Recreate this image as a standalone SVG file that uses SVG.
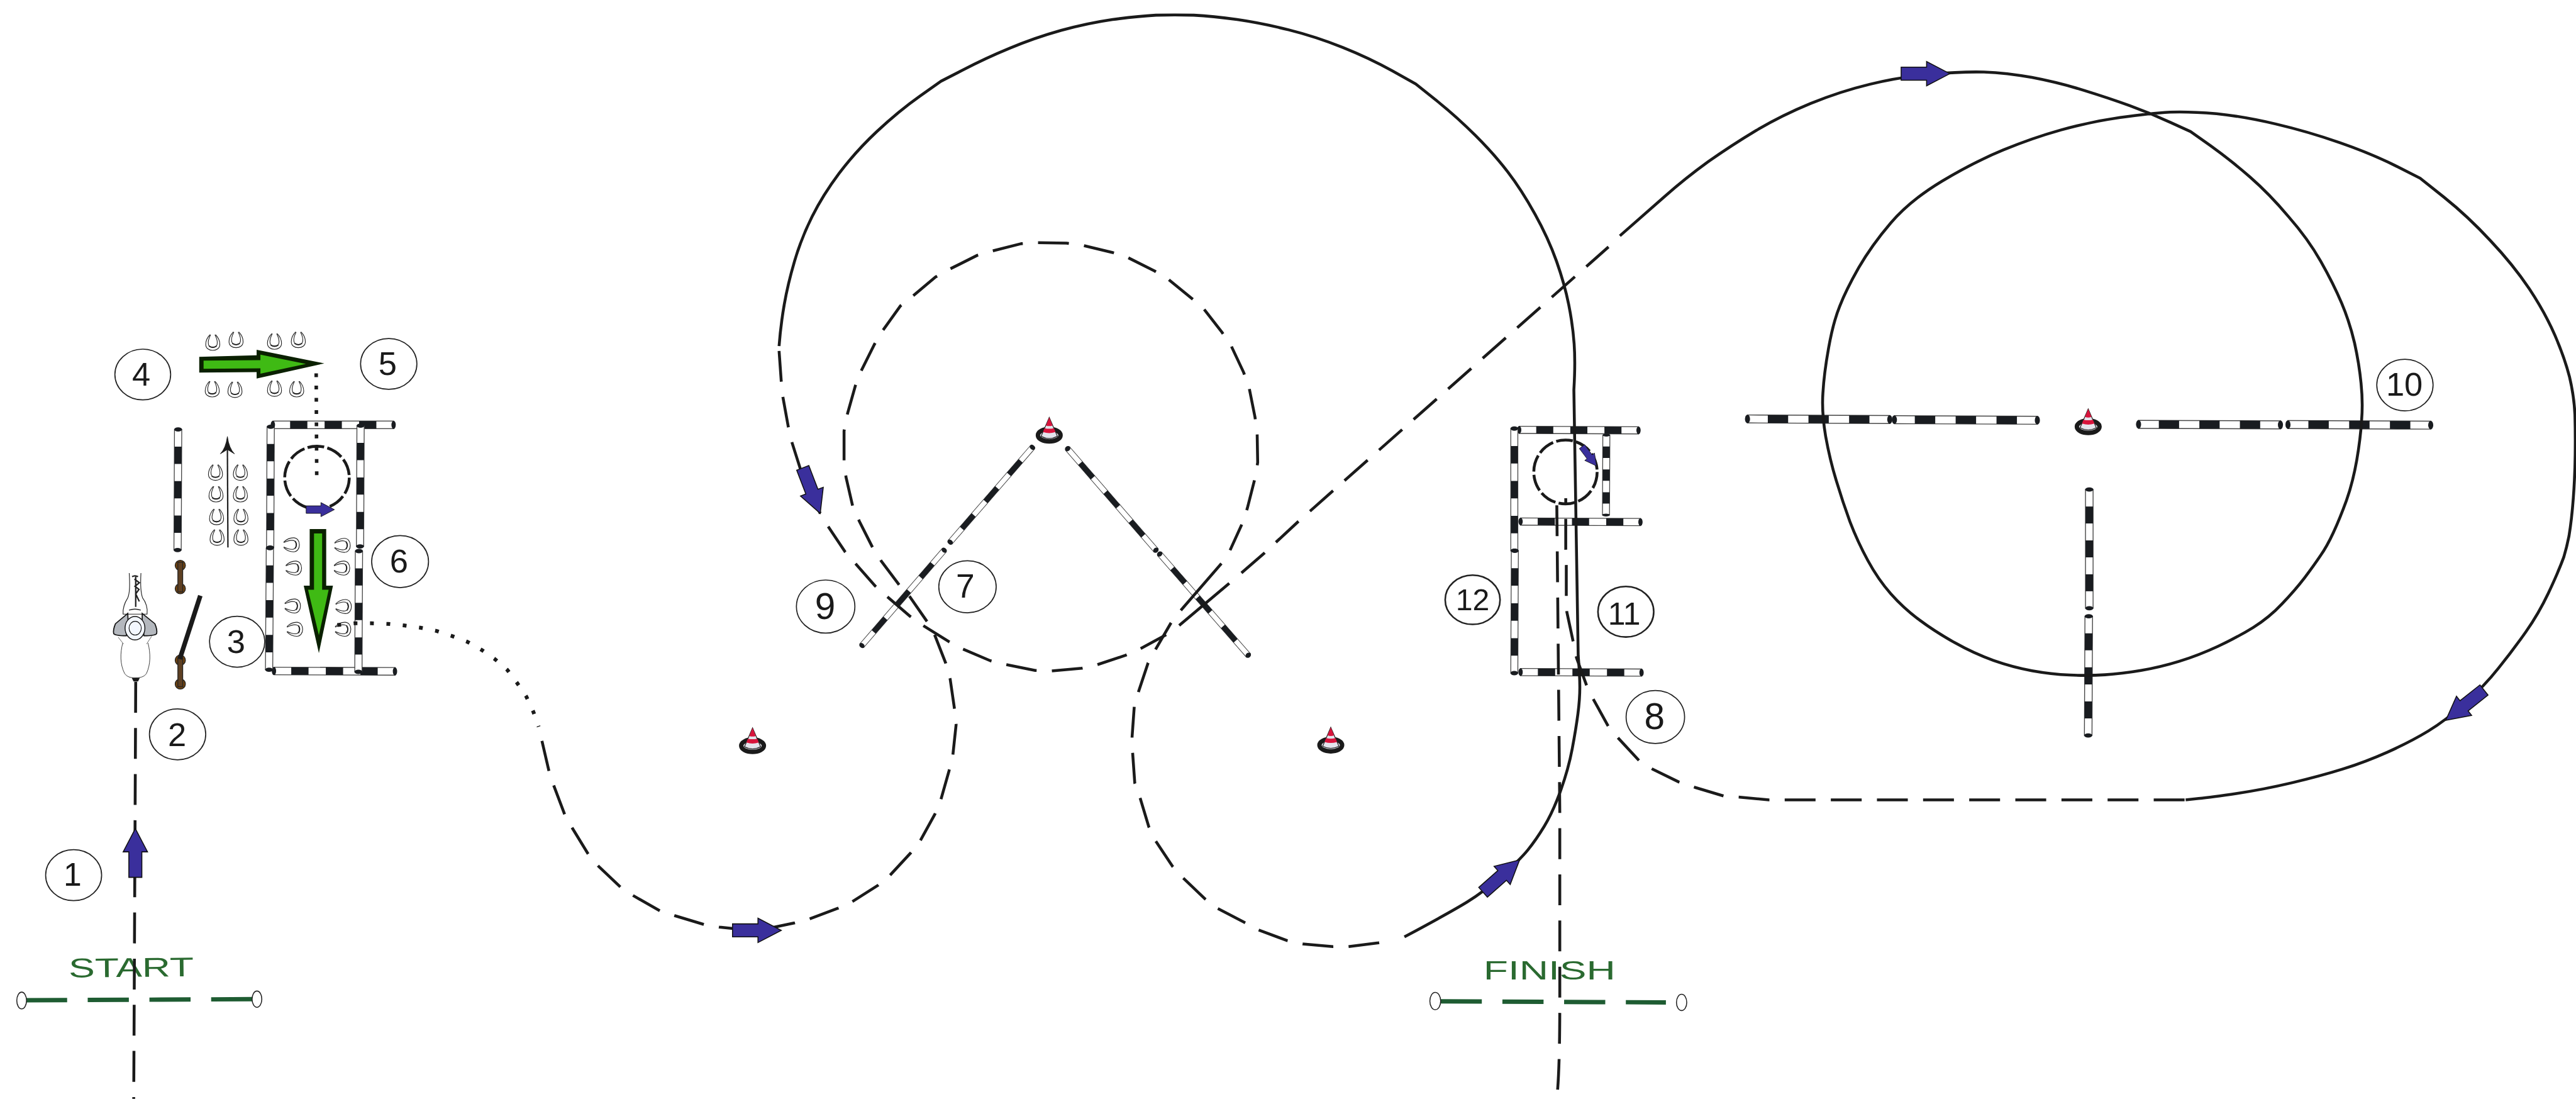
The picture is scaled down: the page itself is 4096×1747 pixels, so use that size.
<svg xmlns="http://www.w3.org/2000/svg" xmlns:xlink="http://www.w3.org/1999/xlink" width="4096" height="1747" viewBox="0 0 4096 1747">
<style>
.l{fill:none;stroke:#1a1a1a;stroke-width:5.3;stroke-linejoin:round}
.d{stroke-dasharray:57 28.2}
.c{stroke-dasharray:31 6}
.o{fill:#fff;stroke:#222;stroke-width:2}
.t{font-family:"Liberation Sans",Arial,sans-serif;fill:#1a1a1a;text-anchor:middle}
.g{font-family:"Liberation Sans",Arial,sans-serif;fill:#2a6a30;font-size:50px}
.gl{fill:none;stroke:#1e5c32;stroke-width:8;stroke-dasharray:76 38}
.e{fill:#fff;stroke:#222;stroke-width:1.8}
.dk{fill:#0a2000}
.gr{fill:#3fba14}
.b{fill:#5e4023;stroke:#222;stroke-width:1.5}
.bb{fill:#6f4310;stroke:#222;stroke-width:1.5}
</style>
<defs>
<g id="pole">
<rect x="0" y="-7" width="224" height="14" fill="#fff" stroke="#444" stroke-width="1.6"/>
<rect x="32" y="-7" width="32" height="14" fill="#191c20"/>
<rect x="96" y="-7" width="32" height="14" fill="#191c20"/>
<rect x="160" y="-7" width="32" height="14" fill="#191c20"/>
<ellipse cx="0" cy="0" rx="4" ry="7.5" fill="#191c20"/>
<ellipse cx="224" cy="0" rx="4" ry="7.5" fill="#191c20"/>
</g>
<polygon id="ba" points="0,0 -43,-22.5 -43,-12 -90,-12 -90,12 -43,12 -43,22.5" fill="#3a2f9c" stroke="#111" stroke-width="1.8"/>
<g id="shoe" fill="none" stroke="#222" stroke-width="1.3">
<path d="M-5,-14C-10,-9 -13,-2 -13,4C-13,11 -7,15 0,15C7,15 13,11 13,4C13,-2 10,-9 5,-14"/>
<path d="M-4,-14C-8,-6 -9,0 -8,4C-7,8 -3,9 0,9C3,9 7,8 8,4C9,0 8,-6 4,-14"/>
<path d="M-7,7Q0,12 7,7" stroke-width="2.2"/>
</g>
<g id="cone">
<ellipse rx="21" ry="11.5" fill="#e4e4ec" stroke="#1a1a1a" stroke-width="8"/>
<path d="M0,-33L15,2Q0,10 -15,2Z" fill="#e4e4ec" stroke="#222" stroke-width="1.4"/>
<path d="M0,-33L6,-18Q0,-16 -6,-18Z" fill="#d8143c"/>
<path d="M-8.5,-13Q0,-11 8.5,-13L11.5,-6Q0,-2 -11.5,-6Z" fill="#d8143c"/>
</g>
</defs>
<g transform="scale(.86087)">
<g id="jump-box-1">
<use href="#pole" transform="matrix(.9955 0 0 1 504 784.5)"/>
<use href="#pole" transform="matrix(.998 .003 0 1 506 1239)"/>
<use href="#pole" transform="matrix(-.0045 .9955 -.96 0 500 788)"/>
<use href="#pole" transform="matrix(-.0067 1.003 -.96 0 498.5 1012)"/>
<use href="#pole" transform="matrix(-.0045 .9955 -.96 0 666 786)"/>
<use href="#pole" transform="matrix(-.0045 .9955 -.96 0 663 1017.6)"/>
</g>
<g id="jump-2">
<use href="#pole" transform="matrix(-.0045 .994 -.96 0 329 793)"/>
<ellipse class="bb" cx="333" cy="1044" rx="9.5" ry="9.5"/><ellipse class="bb" cx="333" cy="1087" rx="9.5" ry="9.5"/>
<rect class="b" x="328.5" y="1038" width="9" height="55"/>
<ellipse class="bb" cx="333" cy="1219" rx="9.5" ry="9.5"/><ellipse class="bb" cx="333" cy="1263" rx="9.5" ry="9.5"/>
<rect class="b" x="328.5" y="1215" width="9" height="53"/>
<line x1="370" y1="1100" x2="332" y2="1217" stroke="#1a1a1a" stroke-width="8.5"/>
</g>
<g id="shoes">
<use href="#shoe" x="393" y="632"/><use href="#shoe" x="436" y="627"/><use href="#shoe" x="507" y="630"/><use href="#shoe" x="551" y="627"/>
<use href="#shoe" x="392" y="718"/><use href="#shoe" x="434" y="719"/><use href="#shoe" x="507" y="717"/><use href="#shoe" x="548" y="718"/>
<use href="#shoe" x="398" y="872"/><use href="#shoe" x="399" y="912"/><use href="#shoe" x="400" y="954"/><use href="#shoe" x="401" y="992"/>
<use href="#shoe" x="444" y="872"/><use href="#shoe" x="444" y="912"/><use href="#shoe" x="445" y="954"/><use href="#shoe" x="445" y="992"/>
<use href="#shoe" transform="translate(538 1006) rotate(-90)"/><use href="#shoe" transform="translate(542 1049) rotate(-90)"/><use href="#shoe" transform="translate(540 1119) rotate(-90)"/><use href="#shoe" transform="translate(544 1162) rotate(-90)"/>
<use href="#shoe" transform="translate(632 1007) rotate(-90)"/><use href="#shoe" transform="translate(631 1049) rotate(-90)"/><use href="#shoe" transform="translate(634 1120) rotate(-90)"/><use href="#shoe" transform="translate(633 1162) rotate(-90)"/>
</g>
<g id="green-arrows">
<polygon class="dk" points="368,659 474,656 474,646 599,671 474,699 474,687 368,688"/>
<polygon class="gr" points="376,666 481,665 481,655 565,672 481,690 481,680 376,681"/>
<polygon class="dk" points="572,977 602.5,977 602.5,1081.6 615,1081.6 589,1206 561,1081.6 572,1081.6"/>
<polygon class="gr" points="580,985 595,985 595,1089 607,1089 589,1173 569,1089 580,1089"/>
<line x1="421" y1="1011" x2="420" y2="825" stroke="#222" stroke-width="2.6"/>
<path d="M420,806Q423,828 433,838L420,830L407,838Q417,828 420,806Z" fill="#1a1a1a" stroke="#1a1a1a" stroke-width="1"/>
</g>
<g id="horse" transform="translate(180 950) scale(.3333)">
<path d="M176,325C180,380 182,430 168,462C150,490 140,520 142,552L275,552C280,520 268,485 250,462C238,430 238,380 241,325" fill="#fff" stroke="#222" stroke-width="4"/>
<path d="M192,345Q208,335 225,345M212,345L212,512M205,358L232,378L208,398L230,415L212,440L232,482" fill="none" stroke="#222" stroke-width="8"/>
<path d="M175,530Q208,518 240,530" fill="none" stroke="#222" stroke-width="5"/>
<path d="M140,712C125,770 125,830 150,880C165,903 190,905 208,905C230,905 258,903 272,880C295,830 295,770 280,712" fill="#fff" stroke="#222" stroke-width="3"/>
<path d="M115,680L145,718M300,675L272,718" stroke="#555" stroke-width="3" fill="none"/>
<path d="M190,905L235,905L225,925L200,925Z" fill="#1a1a1a"/>
<path d="M168,548L100,605Q85,640 90,660Q100,672 160,672L170,600Z" fill="#b4b8be" stroke="#111" stroke-width="6"/>
<path d="M248,548L318,605Q333,640 328,660Q318,672 258,672L248,600Z" fill="#b4b8be" stroke="#111" stroke-width="6"/>
<ellipse cx="208" cy="630" rx="55" ry="65" fill="#f3f7ff" stroke="#111" stroke-width="5"/>
<ellipse cx="209" cy="630" rx="34" ry="38" fill="#f3f7ff" stroke="#111" stroke-width="4"/>
</g>
<g id="jump-v">
<use href="#pole" transform="matrix(-.6786 .7813 -.539 -.468 1907 826)"/>
<use href="#pole" transform="matrix(-.6786 .7857 -.54 -.4666 1744 1016)"/>
<use href="#pole" transform="matrix(.7277 .837 -.539 .4685 1972 828.5)"/>
<use href="#pole" transform="matrix(.7304 .8348 -.537 .47 2142 1023)"/>
</g>
<g id="jump-box-2">
<use href="#pole" transform="matrix(.984 .004 0 .95 2806 793.7)"/>
<use href="#pole" transform="matrix(.9884 .0045 0 .95 2808.6 963)"/>
<use href="#pole" transform="matrix(.9973 .0045 0 .95 2808.6 1241)"/>
<use href="#pole" transform="matrix(0 1.007 -.93 0 2797 791.4)"/>
<use href="#pole" transform="matrix(-.0045 1.009 -.93 0 2798 1017)"/>
<use href="#pole" transform="matrix(-.003 .6585 -.93 0 2967 803.5)"/>
</g>
<g id="jump-cross">
<use href="#pole" transform="matrix(1.173 .0045 0 1.05 3227.7 773.6)"/>
<use href="#pole" transform="matrix(1.179 .0045 0 1.05 3499 775)"/>
<use href="#pole" transform="matrix(1.17 .004 0 1.05 3950 783.6)"/>
<use href="#pole" transform="matrix(1.177 .0045 0 1.05 4226 784)"/>
<use href="#pole" transform="matrix(0 .978 -1 0 3859 904)"/>
<use href="#pole" transform="matrix(-.0045 .982 -1 0 3858 1138)"/>
</g>
<g id="cones">
<use href="#cone" x="1938" y="803.7"/><use href="#cone" x="1390" y="1377"/><use href="#cone" x="2458" y="1376"/><use href="#cone" x="3857" y="788"/>
</g>
<g id="start-line">
<line class="gl" x1="48" y1="1847" x2="466" y2="1845"/>
<ellipse class="e" cx="40" cy="1847.5" rx="9" ry="15.5"/><ellipse class="e" cx="474.6" cy="1845" rx="9" ry="15"/>
<text class="g" x="127" y="1805" textLength="231" lengthAdjust="spacingAndGlyphs" transform="rotate(-.6 127 1805)">START</text>
</g>
<g id="finish-line">
<line class="gl" x1="2661" y1="1849" x2="3077" y2="1851"/>
<ellipse class="e" cx="2651" cy="1848.5" rx="10" ry="16"/><ellipse class="e" cx="3106" cy="1851" rx="9.5" ry="15"/>
<text class="g" x="2740" y="1808.7" textLength="244" lengthAdjust="spacingAndGlyphs">FINISH</text>
</g>
<g id="connectors">
<path class="l d" d="M250.7,1259L247,2029"/>
<path class="l" style="stroke-width:6.5;stroke-dasharray:7 15.6" d="M584,689.5L585,878"/>
<ellipse class="l c" cx="585.5" cy="882" rx="59.6" ry="58"/>
<path class="l" style="stroke-width:7;stroke-dasharray:7 23.3" d="M623,1154L655,1151L686,1151L716.5,1152L747,1155L776,1159L806,1165L835,1174.5L863,1185L889.5,1200L914,1217L937,1237L955,1261L972,1286L985,1314L995,1342"/>
<path class="l d" d="M1001,1368L1014,1424L1023,1451L1043,1504L1057,1529L1087,1578L1105,1599L1146,1638L1170,1654L1219,1682L1247,1691L1300,1707L1329,1712L1386,1718L1411,1716L1468,1704L1495,1697L1548,1677L1574,1665L1622,1634.5L1644,1616L1682,1575L1700,1552L1727,1503L1738,1476L1753,1423L1760,1394L1766,1338L1763,1309L1755,1254L1747,1225L1727,1174L1712.5,1148L1680.6,1102L1661.5,1081L1627.7,1036L1612,1011.5L1587,962L1575,935L1562.6,881L1559,852L1559,796L1564.5,767L1580,712L1590,686L1615,636L1630,611L1663,565L1685,547.5L1728,511.5L1753,497.5L1805,471.5L1831,464L1886,450L1915,448L1970,449L2000,453L2054,466L2082,475L2132,500L2157,515L2200,550L2222,568.5L2257,613.5L2273,636.5L2297,687.5L2307,715L2318,770L2322,799.5L2323,854L2318,883L2304,938L2295,965.5L2272,1016"/>
<path class="l" d="M2256,1040.5L2181,1127M2178,1155L2270.5,1077"/>
<path class="l d" d="M2163,1150L2135,1198L2120.6,1224L2103,1277L2095,1305L2091,1360.6L2092,1390L2096,1446L2106,1474L2122,1527L2134,1552L2166,1600L2185,1621L2226,1660L2248,1677L2298,1703L2324,1717L2378,1737L2406,1743L2462,1748L2490,1748L2546,1741L2574,1736"/>
<path class="l" d="M2594,1730Q2680,1684 2710,1665.5Q2740,1647 2773.5,1617.5Q2807,1588 2822,1569.5Q2837,1551 2852.5,1525.5Q2868,1500 2882.5,1460Q2897,1420 2904,1382.5Q2911,1345 2914.5,1318Q2918,1291 2918,1269Q2918,1247 2915,1211L2907,720Q2910,670 2907.5,635Q2905,600 2897.5,562.5Q2890,525 2875,482.5Q2860,440 2835,395Q2810,350 2785,317.5Q2760,285 2725,250Q2690,215 2652.5,185L2615,155L2572,131Q2530,107.5 2480,87.5Q2430,67.5 2380,55Q2330,42.5 2285,36Q2240,30 2205,28Q2170,27 2135,28Q2100,30 2055,36Q2010,42.5 1960,56Q1910,70 1865,89Q1820,107.5 1779,129L1738,150L1699,177.5Q1660,205 1620,242.5Q1580,280 1550,320Q1520,360 1500,400Q1480,440 1467.5,482.5Q1455,525 1448.5,562.5Q1442,600 1439,639"/>
<path class="l d" d="M1439,648L1443,704L1446,733L1456,788L1462.5,816L1478,865L1487,892L1515,948L1529.5,972L1561,1019L1580,1040.5L1617,1082.5L1639,1102L1681,1138L1705,1155L1753,1185L1777.5,1198L1829,1220L1857,1227L1912,1238L1942,1239L1998,1234L2026,1227.6L2079,1210L2105,1198.6L2154,1172"/>
<path class="l d" d="M2293,1058L2335.6,1021L2357,1001L2398,963L2971,456"/>
<path class="l" d="M2992,435.5Q3036,397 3074.5,363Q3113,329 3154.5,299Q3196,269.6 3243.5,241Q3291,213 3344.5,191Q3398,169 3454,155.5Q3510,142 3566,137Q3623,132 3664.5,133Q3706,134.5 3753,143Q3800.6,152 3848,166.5Q3895,181 3933.5,195Q3972,209 4009,226L4046,243L4083,269Q4120.5,296 4156,327Q4191.6,358 4227,400Q4263,441 4286.5,482.5Q4310,524 4325,559.5Q4340,595 4349,633.5Q4357.5,672 4361,708Q4364.6,743.5 4362,776Q4360,809 4353,850Q4345.6,891.6 4334,924Q4322,957 4310,983Q4298,1009 4286,1026Q4274.6,1043 4257,1066.5Q4239,1090 4215,1115Q4191.6,1140 4162,1158.5Q4132,1177 4096.5,1193.5Q4061,1210 4025.5,1221Q3990,1232 3954.5,1238Q3919,1244 3888,1246Q3857.5,1248 3823,1246.5Q3789,1245 3753,1238.5Q3717.6,1232 3682,1219.5Q3646.5,1207 3611,1187Q3575,1167 3545.5,1145Q3516,1123 3492.5,1096.5Q3469,1070 3450,1035Q3431,1000 3417,963.5Q3403.6,927 3392,888.5Q3380,850 3372,805.5Q3364.5,761 3367,725.5Q3369,690 3377.5,642.5Q3386,595 3398,565.5Q3409.5,536 3433,494.5Q3457,453 3492.5,411.5Q3528,370 3587,334.5Q3646.5,299 3700,277Q3753,255 3806.5,240Q3860,225 3916,217Q3972,209 4008,207Q4043.5,205.6 4094,210Q4144,215 4203.5,229Q4263,243 4322,263.5Q4381,284 4425.5,306.5L4470,329L4514,364Q4559,400 4600,444.5Q4642,489 4671.5,533Q4701,577.6 4719,619Q4737,660.6 4746,696Q4754.5,731.7 4756,766Q4757,800 4756.5,840Q4756,880 4753,920Q4750,960 4745,990Q4741,1010 4735.5,1028.5Q4725,1057 4707,1095Q4689,1133 4665.5,1166.5Q4642,1200 4615,1233.5Q4588.6,1267 4553,1298.5Q4517.5,1330 4485,1350Q4452,1370 4410.5,1388.5Q4369,1407 4327.5,1420Q4286,1433 4233,1445.5Q4180,1458 4132,1465Q4085,1472 4061,1474.5L4037,1477"/>
<path class="l d" d="M4035,1477L3267,1477L3214,1472L3184,1470L3131,1454L3101,1444L3052,1420L3028,1405L2989,1363L2971,1342L2944,1293L2931,1267L2912,1215L2906,1186L2894,1130L2893,1102L2893,1045L2892,1015L2892,960L2892,928L2892,920"/>
<ellipse class="l c" cx="2891.5" cy="871.5" rx="58.5" ry="59"/>
<path class="l d" d="M2875.5,933L2881,1500L2881,1850Q2881,1960 2877,2012"/>
</g>
<g id="blue-arrows">
<use href="#ba" transform="translate(250 1530) rotate(-90)"/>
<use href="#ba" transform="translate(617.7 941) scale(.58)"/>
<use href="#ba" transform="translate(1443 1718)"/>
<use href="#ba" transform="translate(1515 948) rotate(69)"/>
<use href="#ba" transform="translate(2806.7 1588) rotate(-41.5)"/>
<use href="#ba" transform="translate(2949 860.6) rotate(53) scale(.5)"/>
<use href="#ba" transform="translate(3601.5 136)"/>
<use href="#ba" transform="translate(4517.5 1330) rotate(141.6)"/>
</g>
<g id="label-1"><ellipse class="o" cx="136" cy="1616" rx="51.7" ry="47"/><text class="t" x="134" y="1636" font-size="60">1</text></g>
<g id="label-2"><ellipse class="o" cx="328" cy="1356" rx="52" ry="47"/><text class="t" x="327" y="1378" font-size="61">2</text></g>
<g id="label-3"><ellipse class="o" cx="438" cy="1185" rx="51" ry="47"/><text class="t" x="436" y="1206" font-size="61">3</text></g>
<g id="label-4"><ellipse class="o" cx="263.7" cy="691.5" rx="51.5" ry="46.8"/><text class="t" x="261" y="712" font-size="61">4</text></g>
<g id="label-5"><ellipse class="o" cx="718" cy="672" rx="52" ry="47"/><text class="t" x="716" y="692" font-size="61">5</text></g>
<g id="label-6"><ellipse class="o" cx="739" cy="1037" rx="52.5" ry="48"/><text class="t" x="737" y="1057" font-size="61">6</text></g>
<g id="label-7"><ellipse class="o" cx="1787" cy="1083.5" rx="53" ry="48"/><text class="t" x="1783" y="1104" font-size="62">7</text></g>
<g id="label-8"><ellipse class="o" cx="3057.5" cy="1324" rx="54" ry="49"/><text class="t" x="3056" y="1346" font-size="68">8</text></g>
<g id="label-9"><ellipse class="o" cx="1525" cy="1120" rx="54" ry="49"/><text class="t" x="1524" y="1143" font-size="68">9</text></g>
<g id="label-10"><ellipse class="o" cx="4442" cy="711" rx="52" ry="47.7"/><text class="t" x="4441" y="731" font-size="61">10</text></g>
<g id="label-11"><ellipse class="o" style="stroke-width:3" cx="3003" cy="1129.6" rx="51.5" ry="46.7"/><text class="t" x="3000" y="1154" font-size="58">11</text></g>
<g id="label-12"><ellipse class="o" style="stroke-width:3" cx="2720" cy="1107.5" rx="50.7" ry="45.5"/><text class="t" x="2720" y="1127" font-size="56">12</text></g>
</g>
</svg>
